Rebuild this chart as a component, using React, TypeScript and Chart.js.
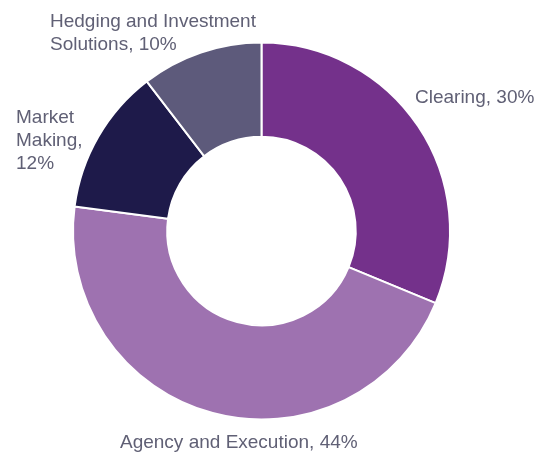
import React, { useEffect, useRef } from "react";
import { Chart, registerables } from "chart.js";

Chart.register(...registerables);

const categories = ["Clearing", "Agency and Execution", "Market Making", "Hedging and Investment Solutions"];
const values = [30, 44, 12, 10];
const labelLines = [
  ["Clearing, 30%"],
  ["Agency and Execution, 44%"],
  ["Market", "Making,", "12%"],
  ["Hedging and Investment", "Solutions, 10%"],
];
const colors = ["#74318B", "#9E72B0", "#1E1A4A", "#5D5A7B"];

// label placement relative to the doughnut centre (x offset, first baseline offset)
const labelOffsets = [
  { dx: 153.5, dy: -128.5 },
  { dx: -141.5, dy: 216.5 },
  { dx: -245.5, dy: -108 },
  { dx: -211.5, dy: -204 },
];
const LINE_HEIGHT = 22.8;

const labelPlugin = {
  id: "outerLabels",
  afterDraw(chart: any) {
    const meta = chart.getDatasetMeta(0);
    const ctx = chart.ctx;
    ctx.save();
    ctx.font = '19px "Liberation Sans", Arial, sans-serif';
    ctx.fillStyle = "#606075";
    ctx.textAlign = "left";
    ctx.textBaseline = "alphabetic";
    meta.data.forEach((arc: any, i: number) => {
      const { x, y } = arc.getProps(["x", "y"], true);
      const off = labelOffsets[i];
      labelLines[i].forEach((line, j) => {
        ctx.fillText(line, x + off.dx, y + off.dy + j * LINE_HEIGHT);
      });
    });
    ctx.restore();
  },
};

export default function App() {
  const ref = useRef<HTMLCanvasElement | null>(null);
  useEffect(() => {
    document.body.style.margin = "0";
    const chart = new Chart(ref.current!, {
      type: "doughnut",
      data: {
        labels: categories,
        datasets: [
          {
            data: values,
            backgroundColor: colors,
            borderColor: "#ffffff",
            borderWidth: 2,
          },
        ],
      },
      options: {
        responsive: false,
        animation: false,
        cutout: "50%",
        layout: { padding: { left: 72, right: 92, top: 41.5, bottom: 31.5 } },
        plugins: { legend: { display: false }, tooltip: { enabled: false } },
      },
      plugins: [labelPlugin],
    });
    return () => chart.destroy();
  }, []);
  return (
    <div style={{ position: "absolute", left: 0, top: 0, width: 543, height: 452, background: "#fff" }}>
      <canvas ref={ref} width={543} height={452} />
    </div>
  );
}
